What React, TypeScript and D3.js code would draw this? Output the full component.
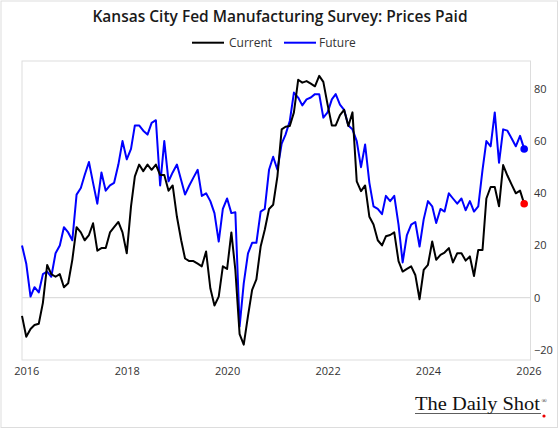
import { useEffect, useRef } from "react";
import * as d3 from "d3";

const WIDTH = 560;
const HEIGHT = 429;
const PLOT = { left: 22, right: 530.5, top: 61, bottom: 360 };

// monthly readings, Dec 2015 .. Dec 2025
const START_MONTH = new Date(2015, 11, 1);
const current = [
  -7, -15, -12, -10.5, -10, -2, 12.5, 9, 8, 9, 4, 5.5,
  14.5, 27, 25, 22, 24, 28.5, 18, 19, 19, 25, 27, 29,
  25, 17, 35, 46.5, 51, 48.5, 51, 49, 51, 47, 47, 41,
  43, 31, 22, 15, 14, 14, 13, 12, 17.7, 3.6, -3, 0.4,
  12, 11, 25, 10.6, -14, -18, -7, 3, 7, 19.6, 26, 34,
  35.6, 46.5, 64.5, 65.5, 65.8, 71, 83.5, 82.4, 83, 82, 81, 85,
  82.7, 74, 66, 66, 70, 72, 65.8, 71, 44.6, 40.8, 43, 31,
  28, 22, 20, 23.5, 24, 25, 14, 10, 11, 12, 8.7, -0.6,
  10.6, 12.6, 21.5, 14.5, 16.4, 17.3, 19, 13.5, 17, 17, 14.2, 15.8,
  8.3, 18.3, 18.3, 38, 42.4, 42.4, 35, 50.8, 46.8, 43.3, 40, 41,
  36,
];
const future = [
  20, 13, 0.4, 4, 2, 9, 10, 8, 17, 20, 27, 25,
  22, 39.5, 42, 47, 52, 44, 36, 48, 41, 43, 44, 51,
  60, 53, 57, 66, 66, 64, 62.5, 67, 68, 43, 60, 44.6,
  48, 51, 45, 39.5, 43, 46, 49, 39, 40, 37, 32.4, 21.5,
  34, 38, 32.4, 32.7, -11, 5.5, 17, 21, 21, 33, 34, 49,
  54, 49, 59, 62.5, 67.7, 78.6, 76.7, 73.7, 76, 76.7, 78, 78,
  69, 71, 76, 78, 74, 72, 66, 64.5, 60, 50, 58.7, 44,
  35, 34, 32, 39, 37, 39, 28, 13.5, 24, 28, 29, 19.6,
  30, 37, 35, 28.6, 34, 33, 40, 38, 36, 38, 33.5, 37,
  33, 35, 49, 60, 58, 71, 51.7, 64.5, 64, 61, 58, 62,
  57,
];
const yTicks = [-20, 0, 20, 40, 60, 80];
const xTickYears = [2016, 2018, 2020, 2022, 2024, 2026];

type Point = { date: Date; value: number };

const toPoints = (values: number[]): Point[] =>
  values.map((v, i) => ({ date: d3.timeMonth.offset(START_MONTH, i), value: v }));

const FONT = '"Open Sans", "Noto Sans", sans-serif';

export default function App() {
  const axesRef = useRef<SVGGElement>(null);

  const xScale = d3
    .scaleTime()
    .domain([START_MONTH, new Date(2026, 0, 16)])
    .range([PLOT.left, PLOT.right]);
  const yScale = d3
    .scaleLinear()
    .domain([-23.9, 90.7])
    .range([PLOT.bottom, PLOT.top]);

  const currentPts = toPoints(current);
  const futurePts = toPoints(future);

  const line = d3
    .line<Point>()
    .x((d) => xScale(d.date))
    .y((d) => yScale(d.value));

  useEffect(() => {
    const g = d3.select(axesRef.current);
    g.selectAll("*").remove();

    const yAxis = d3.axisRight(yScale).tickValues(yTicks).tickSize(0).tickPadding(3.5);
    g.append("g")
      .attr("transform", `translate(${PLOT.right},0)`)
      .call(yAxis)
      .call((s) => s.select(".domain").remove())
      .call((s) =>
        s.selectAll("text").attr("fill", "#333").attr("font-size", 11).attr("font-family", FONT)
      );

    const xAxis = d3
      .axisBottom(xScale)
      .tickValues(xTickYears.map((y) => new Date(y, 0, 1)))
      .tickSize(0)
      .tickPadding(7)
      //@ts-ignore
      .tickFormat(d3.timeFormat("%Y"));
    g.append("g")
      .attr("transform", `translate(0,${PLOT.bottom})`)
      .call(xAxis)
      .call((s) => s.select(".domain").remove())
      .call((s) =>
        s.selectAll("text").attr("fill", "#333").attr("font-size", 11).attr("font-family", FONT)
      );
  }, []);

  const lastCur = currentPts[currentPts.length - 1];
  const lastFut = futurePts[futurePts.length - 1];

  return (
    <div style={{ position: "absolute", left: 0, top: 0 }}>
      <svg width={WIDTH} height={HEIGHT} style={{ display: "block" }}>
        <rect x={0} y={0} width={WIDTH} height={HEIGHT} fill="#fff" />
        <rect x={1} y={1} width={556.5} height={426.5} fill="none" stroke="#ddd" />

        <text
          x={280}
          y={21.5}
          textAnchor="middle"
          fontFamily={FONT}
          fontWeight={600}
          fontSize={15.5}
          fill="#1a1a1a"
        >
          Kansas City Fed Manufacturing Survey: Prices Paid
        </text>

        {/* legend */}
        <g fontFamily={FONT} fontSize={12} fill="#333">
          <line x1={192} x2={224} y1={42.7} y2={42.7} stroke="#000" strokeWidth={2} />
          <text x={229} y={47}>Current</text>
          <line x1={284} x2={316} y1={42.7} y2={42.7} stroke="#0000ff" strokeWidth={2} />
          <text x={319} y={47}>Future</text>
        </g>

        <rect
          x={PLOT.left}
          y={PLOT.top}
          width={PLOT.right - PLOT.left}
          height={PLOT.bottom - PLOT.top}
          fill="none"
          stroke="#ddd"
        />
        <line
          x1={PLOT.left}
          x2={PLOT.right}
          y1={yScale(0)}
          y2={yScale(0)}
          stroke="#ddd"
          strokeWidth={1.2}
        />

        <path d={line(futurePts) ?? ""} fill="none" stroke="#0000ff" strokeWidth={2} strokeLinejoin="round" />
        <path d={line(currentPts) ?? ""} fill="none" stroke="#000" strokeWidth={2} strokeLinejoin="round" />
        <circle cx={xScale(lastFut.date)} cy={yScale(lastFut.value)} r={3.8} fill="#0000ff" />
        <circle cx={xScale(lastCur.date)} cy={yScale(lastCur.value)} r={3.8} fill="#ff0000" />

        <g ref={axesRef} />

        {/* logo */}
        <text
          x={415}
          y={410}
          fontFamily='"Liberation Serif", "DejaVu Serif", serif'
          fontSize={19}
          textLength={125}
          lengthAdjust="spacingAndGlyphs"
          fill="#111"
        >
          The Daily Shot
        </text>
        <text x={541.5} y={403} fontFamily='"Liberation Serif", serif' fontSize={7} fill="#111">
          ®
        </text>
        <line x1={415} x2={541} y1={413.5} y2={413.5} stroke="#333" strokeWidth={0.8} />
        <circle cx={544} cy={416} r={1.6} fill="#e00" />
      </svg>
    </div>
  );
}
